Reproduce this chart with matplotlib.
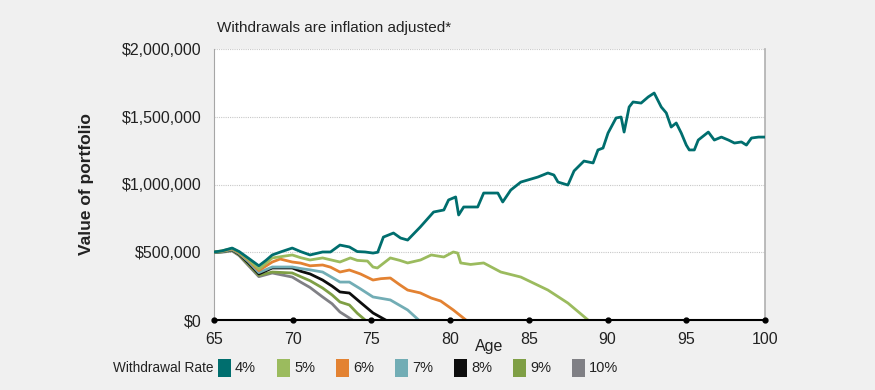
# %% importing packages
import matplotlib
matplotlib.use("Agg")
import matplotlib.pyplot as plt
import matplotlib.ticker as mticker
from matplotlib.patches import Rectangle
import numpy as np

plt.rcParams['font.family'] = ['Liberation Sans', 'DejaVu Sans']

# %% data (age, portfolio value in $ thousands)
age_4 = [65.0, 65.5, 66.15, 66.6, 67.2, 67.85, 68.3, 68.7, 69.3, 69.97, 70.5, 71.1, 71.9, 72.4,
         73.0, 73.6, 74.1, 74.6, 75.1, 75.4, 75.76, 76.4, 76.85, 77.3, 78.1, 78.95, 79.6, 79.9,
         80.35, 80.54, 80.86, 81.75, 82.13, 83.03, 83.34, 83.85, 84.49, 85.57, 86.21, 86.59,
         86.85, 87.48, 87.87, 88.5, 89.08, 89.39, 89.71, 90.03, 90.54, 90.86, 91.05, 91.37,
         91.62, 92.13, 92.58, 92.96, 93.41, 93.73, 94.04, 94.36, 94.68, 95.0, 95.19, 95.51,
         95.76, 96.4, 96.78, 97.23, 97.68, 98.06, 98.5, 98.82, 99.14, 99.59, 100.0]
val_4 = [502, 510, 531, 505, 455, 400, 440, 480, 505, 531, 505, 480, 502, 502,
         553, 539, 505, 502, 494, 500, 612, 642, 605, 590, 686, 797, 812, 886,
         908, 775, 834, 834, 937, 937, 871, 959, 1018, 1055, 1085, 1070,
         1018, 996, 1100, 1173, 1159, 1255, 1269, 1380, 1491, 1498, 1387, 1572,
         1609, 1601, 1646, 1675, 1572, 1528, 1424, 1454, 1380, 1291, 1255, 1255,
         1328, 1387, 1328, 1350, 1328, 1306, 1314, 1291, 1343, 1350, 1350]

age_5 = [65.0, 65.5, 66.15, 66.6, 67.2, 67.85, 68.7, 69.97, 70.5, 71.1, 71.9, 73.0, 73.66,
         74.1, 74.75, 75.1, 75.38, 76.2, 76.8, 77.3, 78.12, 78.8, 79.6, 80.2, 80.48, 80.67,
         81.3, 82.13, 83.22, 84.49, 86.21, 87.48, 88.76]
val_5 = [502, 510, 528, 500, 445, 375, 458, 480, 460, 443, 458, 428, 458,
         440, 435, 391, 384, 458, 440, 421, 443, 480, 465, 502, 494, 421,
         410, 421, 354, 317, 221, 125, 0]

age_6 = [65.0, 65.5, 66.15, 66.6, 67.2, 67.85, 68.7, 69.2, 69.97, 70.5, 71.1, 71.9, 72.4,
         73.0, 73.6, 74.3, 75.1, 75.6, 76.2, 76.8, 77.3, 78.1, 78.8, 79.4, 80.2, 81.0]
val_6 = [502, 508, 525, 495, 440, 365, 428, 450, 428, 420, 400, 406, 390,
         354, 369, 340, 295, 305, 310, 260, 221, 200, 162, 140, 74, 0]

age_7 = [65.0, 65.5, 66.15, 66.6, 67.2, 67.85, 68.7, 69.97, 70.5, 71.1, 71.9, 73.0, 73.6,
         74.3, 75.1, 76.2, 77.3, 78.0]
val_7 = [500, 505, 520, 490, 430, 350, 391, 391, 380, 370, 354, 280, 280,
         230, 170, 148, 74, 0]

age_8 = [65.0, 65.5, 66.15, 66.6, 67.2, 67.85, 68.7, 69.97, 70.5, 71.1, 71.9, 72.5, 73.0,
         73.6, 74.3, 75.1, 75.9]
val_8 = [500, 505, 518, 485, 420, 340, 384, 384, 360, 340, 295, 250, 207,
         199, 130, 52, 0]

age_9 = [65.0, 65.5, 66.15, 66.6, 67.2, 67.85, 68.7, 69.97, 70.5, 71.1, 71.9, 72.5, 73.0,
         73.6, 74.1, 74.6]
val_9 = [500, 503, 515, 480, 410, 330, 354, 347, 320, 290, 236, 185, 133,
         111, 50, 0]

age_10 = [65.0, 65.5, 66.15, 66.6, 67.2, 67.85, 68.7, 69.97, 70.5, 71.1, 71.9, 72.5, 73.0, 73.8]
val_10 = [498, 500, 510, 475, 400, 320, 347, 317, 280, 240, 170, 120, 59, 0]

rate_labels = ['4%', '5%', '6%', '7%', '8%', '9%', '10%']
rate_colors = ['#006e6e', '#9bbb5e', '#e38232', '#72adb5', '#0d0d0d', '#7f9f45', '#808085']
series = [(age_4, val_4), (age_5, val_5), (age_6, val_6), (age_7, val_7),
          (age_8, val_8), (age_9, val_9), (age_10, val_10)]

x_ticks = [65, 70, 75, 80, 85, 90, 95, 100]
y_ticks = [0, 500000, 1000000, 1500000, 2000000]

# %% plot
fig = plt.figure(figsize=(8.75, 3.9), dpi=100, facecolor='#f0f0f0')
ax = fig.add_axes([214 / 875, 1 - 320 / 390, 551 / 875, 271 / 390])
ax.set_facecolor('white')

# draw highest rate first so the 4% line sits on top
for (ages, vals), col in reversed(list(zip(series, rate_colors))):
    ax.plot(ages, np.array(vals) * 1000, color=col, lw=2.0, zorder=3)

ax.set_xlim(65, 100)
ax.set_ylim(0, 2000000)
ax.set_xticks(x_ticks)
ax.set_yticks(y_ticks)
ax.yaxis.set_major_formatter(mticker.FuncFormatter(lambda v, p: '${:,.0f}'.format(v)))
ax.tick_params(axis='both', length=0, labelsize=11.5, colors='#222222')
ax.tick_params(axis='y', pad=9)
ax.tick_params(axis='x', pad=9)

ax.grid(axis='y', color='#c8c8c8', linestyle=(0, (1, 1)), lw=0.8, zorder=1)
ax.spines['top'].set_visible(False)
ax.spines['left'].set_color('#a6a6a6')
ax.spines['right'].set_color('#b0b0b0')
ax.spines['right'].set_linewidth(1.2)
ax.spines['bottom'].set_color('black')
ax.spines['bottom'].set_linewidth(1.5)
ax.spines['bottom'].set_zorder(4)

# dots on the axis at each tick
ax.plot(x_ticks, [0] * len(x_ticks), 'o', color='black', ms=3.5, clip_on=False, zorder=5)

ax.set_xlabel('Age', fontsize=11.5, color='#222222')
ax.xaxis.set_label_coords(0.5, -0.07)
ax.set_ylabel('Value of portfolio', fontsize=12.5, fontweight='bold', color='#222222')
ax.yaxis.set_label_coords(-0.218, 0.5)

fig.text(217 / 875, 1 - 28 / 390, 'Withdrawals are inflation adjusted*', fontsize=11,
         ha='left', va='center', color='#222222')

# %% legend along the bottom
ly = 1 - 368 / 390
fig.text(113 / 875, ly, 'Withdrawal Rate', fontsize=9.8, ha='left', va='center', color='#222222')
for i, (lab, col) in enumerate(zip(rate_labels, rate_colors)):
    x0 = 218 + i * 59.0
    fig.add_artist(Rectangle((x0 / 875, 1 - 377 / 390), 13 / 875, 18 / 390,
                             transform=fig.transFigure, facecolor=col, edgecolor='none'))
    fig.text((x0 + 17) / 875, ly, lab, fontsize=10.5, ha='left', va='center', color='#222222')

fig.savefig('out.png', dpi=100, facecolor=fig.get_facecolor())
